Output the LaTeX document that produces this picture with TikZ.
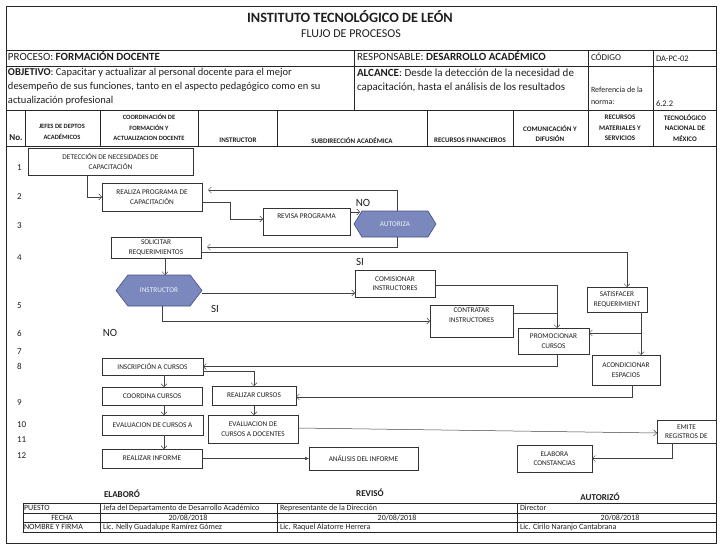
\documentclass[tikz,border=0pt]{standalone}
\usepackage{fontspec}
\setmainfont{Carlito}
\usetikzlibrary{arrows.meta,calc,shapes.symbols}
\definecolor{hexfill}{RGB}{122,136,190}
\definecolor{hexdraw}{RGB}{70,80,130}
\definecolor{ink}{RGB}{30,30,30}
\begin{document}
\begin{tikzpicture}[x=1pt,y=-1pt,
  every node/.style={inner sep=0pt, outer sep=0pt, text=ink},
  frame/.style={draw=black!85, line width=0.6pt},
  bx/.style 2 args={draw=black!80, line width=0.6pt, minimum width=#1, minimum height=#2,
     align=center, font=\fontsize{7.3}{9.5}\selectfont, inner sep=1pt},
  hexa/.style 2 args={signal, signal to=east and west, draw=hexdraw, fill=hexfill, line width=0.6pt,
     minimum width=#1, minimum height=#2, font=\fontsize{7.3}{8}\selectfont, text=white!88!hexfill},
  arr/.style={draw=black!75, line width=0.5pt, -{Straight Barb[length=3pt,width=6pt]}},
  ln/.style={draw=black!75, line width=0.5pt},
  lbl/.style={font=\fontsize{11}{12}\selectfont},
  num/.style={anchor=west, font=\fontsize{9}{11}\selectfont},
  hdr/.style={font=\bfseries\fontsize{7}{10.5}\selectfont, align=center},
  hdrs/.style={font=\bfseries\fontsize{6.5}{10.5}\selectfont, align=center},
  ht/.style={anchor=west, font=\fontsize{11}{14}\selectfont, text height=7pt, text depth=2pt},
  cell/.style={font=\fontsize{8}{9}\selectfont, text height=5.5pt, text depth=1.5pt},
  sig/.style={font=\bfseries\fontsize{9}{10}\selectfont},
]
\useasboundingbox (0,0) rectangle (720,559);
% ---------- frame and header grid ----------
\draw[frame] (6,6) rectangle (716,543);
\draw[frame] (6,50) -- (716,50);
\draw[frame] (6,66) -- (716,66);
\draw[frame] (6,110) -- (716,110);
\draw[frame] (6,146) -- (716,146);
\draw[frame] (354,50) -- (354,110);
\draw[frame] (588,50) -- (588,146);
\draw[frame] (653,50) -- (653,146);
\foreach \xx in {25,100,198,277,427,513}{\draw[frame] (\xx,110) -- (\xx,146);}
% ---------- header texts ----------
\node[font=\bfseries\fontsize{14.2}{16}\selectfont] (title) at (350,17) {INSTITUTO TECNOLÓGICO DE LEÓN};
\node[font=\fontsize{12}{13}\selectfont] (subt) at (351,34) {FLUJO DE PROCESOS};
\node[ht] (proc) at (8,58) {PROCESO: \textbf{FORMACIÓN DOCENTE}};
\node[ht] (resp) at (357,58) {RESPONSABLE: \textbf{DESARROLLO ACADÉMICO}};
\node[ht, font=\fontsize{9}{10}\selectfont] (cod) at (591,58) {CÓDIGO};
\node[ht, font=\fontsize{8.5}{10}\selectfont] (codv) at (656,59) {DA-PC-02};
\node[anchor=north west, align=left, font=\fontsize{10.5}{14}\selectfont] (obj) at (8,68.5)
  {\textbf{OBJETIVO}: Capacitar y actualizar al personal docente para el mejor\\
   desempeño de sus funciones, tanto en el aspecto pedagógico como en su\\
   actualización profesional};
\node[anchor=north west, align=left, font=\fontsize{11}{14}\selectfont] (alc) at (357,68.5)
  {\textbf{ALCANCE}: Desde la detección de la necesidad de\\
   capacitación, hasta el análisis de los resultados};
\node[anchor=north west, align=left, font=\fontsize{8}{12}\selectfont] (ref) at (591,87)
  {Referencia de la\\norma:};
\node[ht, font=\fontsize{8.5}{10}\selectfont] (refv) at (656,104) {6.2.2};
% column headers
\node[font=\bfseries\fontsize{9}{10}\selectfont] (hno) at (16,138) {No.};
\node[hdrs] (h1) at (62,132) {JEFES DE DEPTOS\\ACADÉMICOS};
\node[hdrs] (h2) at (149,127.5) {COORDINACIÓN DE\\FORMACIÓN Y\\ACTUALIZACION DOCENTE};
\node[hdr] (h3) at (238,140) {INSTRUCTOR};
\node[hdr] (h4) at (352,141) {SUBDIRECCIÓN ACADÉMICA};
\node[hdr] (h5) at (470,140) {RECURSOS FINANCIEROS};
\node[hdr] (h6) at (550,133.5) {COMUNICACIÓN Y\\DIFUSIÓN};
\node[hdr] (h7) at (620,128) {RECURSOS\\MATERIALES Y\\SERVICIOS};
\node[hdr] (h8) at (685,128) {TECNOLÓGICO\\NACIONAL DE\\MÉXICO};
% row numbers
\node[num] (n1) at (17,168) {1};
\node[num] (n2) at (17,197) {2};
\node[num] (n3) at (17,226) {3};
\node[num] (n4) at (17,258) {4};
\node[num] (n5) at (17,306) {5};
\node[num] (n6) at (17,333) {6};
\node[num] (n7) at (17,352) {7};
\node[num] (n8) at (17,366) {8};
\node[num] (n9) at (17,403) {9};
\node[num] (n10) at (17,425) {10};
\node[num] (n11) at (17,440) {11};
\node[num] (n12) at (17,456) {12};
% ---------- flow nodes ----------
\node[bx={165}{27}] (det) at (110.5,161.5) {DETECCIÓN DE NECESIDADES DE\\CAPACITACIÓN};
\node[bx={100}{28}] (realiza) at (152,197) {REALIZA PROGRAMA DE\\CAPACITACIÓN};
\node[bx={87}{27}] (revisa) at (306.5,221.5) {REVISA PROGRAMA\\[1pt]~};
\node[hexa={82}{26}, signal pointer angle=117] (aut) at (395,224) {AUTORIZA};
\node[bx={90}{21}] (soli) at (156,247.5) {SOLICITAR\\REQUERIMIENTOS};
\node[hexa={86}{31}, signal pointer angle=105] (instr) at (159,290.5) {INSTRUCTOR};
\node[bx={80}{27}] (comis) at (395,283.5) {COMISIONAR\\INSTRUCTORES};
\node[bx={83}{32}] (contr) at (471.5,321) {CONTRATAR\\INSTRUCTORES\\[2pt]~};
\node[bx={60}{25}] (satis) at (617,299.5) {SATISFACER\\REQUERIMIENT};
\node[bx={71}{26}] (promo) at (553.5,341) {PROMOCIONAR\\CURSOS};
\node[bx={68}{30}] (acond) at (626,370) {ACONDICIONAR\\ESPACIOS};
\node[bx={101}{17}] (inscr) at (152.5,366.5) {INSCRIPCIÓN A CURSOS};
\node[bx={100}{18}] (coord) at (152,396) {COORDINA CURSOS};
\node[bx={84}{19}] (realc) at (254,395.5) {REALIZAR CURSOS};
\node[bx={101}{20}] (eva1) at (152.5,425) {EVALUACION DE CURSOS A};
\node[bx={90}{28}] (eva2) at (253,429) {EVALUACION DE\\CURSOS A DOCENTES};
\node[bx={100}{19}] (inf) at (152,458.5) {REALIZAR INFORME};
\node[bx={109}{23}] (anal) at (363.5,458.5) {ANÁLISIS DEL INFORME};
\node[bx={59}{23}] (emite) at (686.5,431.5) {EMITE\\REGISTROS DE};
\node[bx={75}{27}] (elab) at (554.5,458.5) {ELABORA\\CONSTANCIAS};
% labels
\node[lbl] (no1) at (363,203) {NO};
\node[lbl] (si1) at (360,262) {SI};
\node[lbl] (si2) at (215,309) {SI};
\node[lbl] (no2) at (110,333) {NO};
% ---------- connectors ----------
\draw[arr] ($(det.south)+(-23.5,0)$) |- (realiza.west);
\draw[arr] ($(realiza.east)+(0,5)$) -- ++(28,0) |- ($(revisa.west)+(0,-2.5)$);
\draw[arr] ($(revisa.east)+(0,-9.5)$) -- ($(aut.center)+(-35,-12)$);
\draw[arr] ($(aut.north)+(2,0)$) |- ($(realiza.east)+(6,-7)$);
\draw[arr] ($(aut.south)+(2,0)$) |- ($(soli.east)+(6,-0.5)$);
\draw[arr] ($(soli.east)+(0,5)$) -| ($(satis.north)+(10,0)$);
\draw[arr] ($(soli.south)+(9,0)$) -- ($(instr.north)+(6,0)$);
\draw[arr] ($(instr.east)+(0,2.5)$) -- ($(comis.west)+(0,9.5)$);
\draw[arr] ($(instr.south)+(3,0)$) |- (contr.west);
\draw[arr] ($(comis.east)+(0,1.5)$) -| ($(promo.north)+(3.5,0)$);
\draw[ln] ($(contr.east)+(0,-8)$) -- ($(promo.north)+(3.5,-15)$);
\draw[arr] ($(satis.south)+(24,0)$) -- ($(acond.north)+(15,0)$);
\draw[arr] ($(satis.south)+(24,21)$) -- ($(promo.east)+(0,-8)$);
\draw[arr] ($(promo.south)+(3.5,0)$) |- (inscr.east);
\draw[arr] ($(acond.south)+(6,0)$) |- ($(realc.east)+(0,1.5)$);
\draw[arr] ($(inscr.south)+(11.5,0)$) -- ($(coord.north)+(12,0)$);
\draw[arr] ($(inscr.east)+(0,4.5)$) -| (realc.north);
\draw[arr] ($(coord.south)+(12,0)$) -- ($(eva1.north)+(11.5,0)$);
\draw[arr] (realc.south) -- ($(eva2.north)+(1,0)$);
\draw[arr] ($(eva1.south)+(11.5,0)$) -- ($(inf.north)+(12,0)$);
\draw[ln, -{Latex[length=4pt,width=3.5pt]}] (inf.east) -- (anal.west);
\draw[arr] ($(eva2.east)+(0,-1)$) -- ($(emite.west)+(0,1.5)$);
\draw[arr] ($(emite.south)+(-14.5,0)$) |- (elab.east);
% ---------- signature table ----------
\node[sig] (elabo) at (122,494) {ELABORÓ};
\node[sig] (revi) at (370,493) {REVISÓ};
\node[sig] (auto) at (600,497) {AUTORIZÓ};
\foreach \yy in {503,513,522.5,532}{\draw[frame] (23,\yy) -- (716,\yy);}
\foreach \xx in {23,100,277,517,716}{\draw[frame] (\xx,503) -- (\xx,532);}
\node[cell, anchor=west] (c1) at (24,508) {PUESTO};
\node[cell] (c2) at (62,518) {FECHA};
\node[cell, anchor=west] (c3) at (24,527.5) {NOMBRE Y FIRMA};
\node[cell, anchor=west] (c4) at (103,508) {Jefa del Departamento de Desarrollo Académico};
\node[cell] (c5) at (188,518) {20/08/2018};
\node[cell, anchor=west] (c6) at (103,527.5) {Lic. Nelly Guadalupe Ramírez Gómez};
\node[cell, anchor=west] (c7) at (280,508) {Representante de la Dirección};
\node[cell] (c8) at (397,518) {20/08/2018};
\node[cell, anchor=west] (c9) at (280,527.5) {Lic. Raquel Alatorre Herrera};
\node[cell, anchor=west] (c10) at (520,508) {Director};
\node[cell] (c11) at (620,518) {20/08/2018};
\node[cell, anchor=west] (c12) at (520,527.5) {Lic. Cirilo Naranjo Cantabrana};
\end{tikzpicture}
\end{document}
